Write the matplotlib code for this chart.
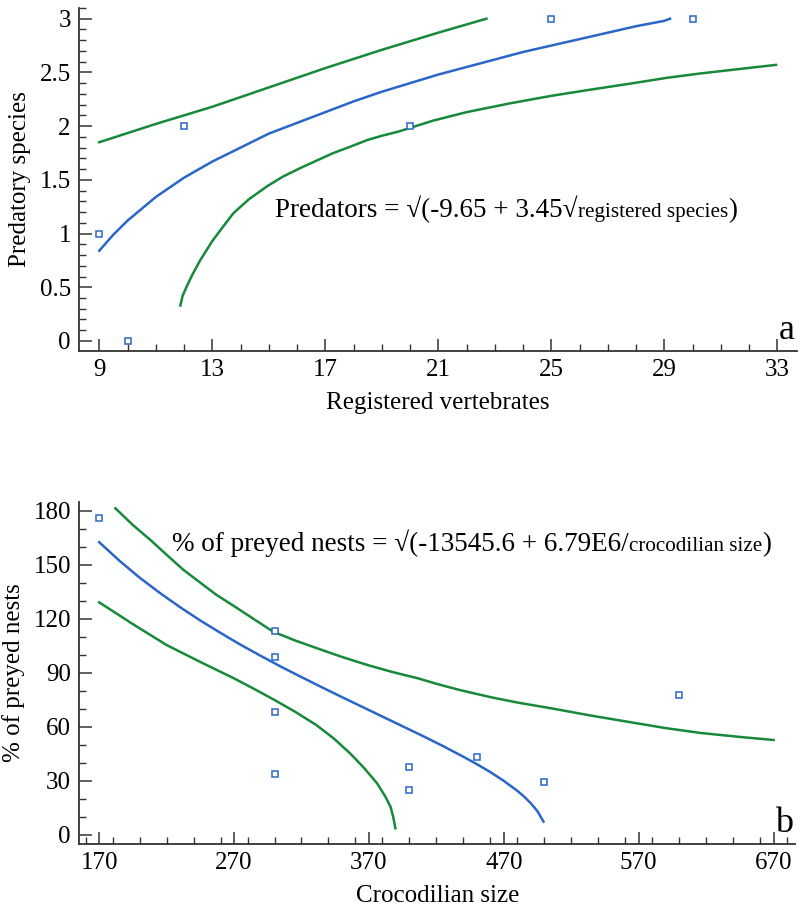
import matplotlib
matplotlib.use('Agg')
import matplotlib.pyplot as plt
from matplotlib.ticker import MultipleLocator

SERIF = ['Liberation Serif', 'DejaVu Serif']
plt.rcParams['font.family'] = SERIF

BLUE = '#2a66c8'
GREEN = '#17893a'

# --- panel a: predators vs registered vertebrates ---
obs_a_x = [9, 10, 12, 20, 25, 30]
obs_a_y = [1, 0, 2, 2, 3, 3]

fit_a_x = [9, 9.5, 10, 10.5, 11, 11.5, 12, 13, 14, 15, 16, 17, 18, 19, 20, 21, 22, 23, 24, 25,
           26, 27, 28, 29, 29.2]
fit_a_y = [0.84, 0.99, 1.12, 1.23, 1.34, 1.43, 1.52, 1.67, 1.80, 1.93, 2.03, 2.13, 2.23, 2.32,
           2.40, 2.48, 2.55, 2.62, 2.69, 2.75, 2.81, 2.87, 2.93, 2.98, 3.0]

up_a_x = [9, 11, 13, 15, 17, 19, 21, 22.7]
up_a_y = [1.85, 2.02, 2.18, 2.36, 2.54, 2.71, 2.87, 3.0]

lo_a_x = [11.87, 11.95, 12.1, 12.3, 12.58, 13.0, 13.4, 13.75, 14.3, 14.94, 15.5, 16.12, 16.7,
          17.29, 17.9, 18.48, 19.0, 19.6, 20.8, 22.0, 23.5, 24.96, 26.4, 27.9, 29.1, 30.27,
          31.6, 32.95]
lo_a_y = [0.33, 0.42, 0.51, 0.62, 0.755, 0.93, 1.07, 1.19, 1.32, 1.44, 1.53, 1.61, 1.68, 1.75,
          1.81, 1.87, 1.91, 1.95, 2.05, 2.13, 2.21, 2.28, 2.34, 2.40, 2.45, 2.49, 2.53, 2.57]

# --- panel b: preyed nests vs crocodilian size ---
obs_b_x = [170, 300, 300, 300, 300, 400, 400, 450, 500, 600]
obs_b_y = [176, 113, 99, 68, 34, 37.5, 25, 43, 29.5, 77.5]

fit_b_x = [170, 185, 200, 215, 230, 245, 260, 275, 290, 305, 320, 335, 350, 365, 380, 395, 410,
           425, 440, 450, 460, 470, 480, 485, 490, 495, 499.4]
fit_b_y = [162.5, 152.2, 142.8, 134.3, 126.4, 119.0, 112.1, 105.5, 99.3, 93.3, 87.6, 82.0, 76.5,
           71.1, 65.7, 60.3, 54.9, 49.3, 43.4, 39.3, 34.9, 30.0, 24.5, 21.3, 17.6, 13.1, 7.4]

up_b_x = [182, 195, 208, 220, 232.5, 245, 257, 270, 282, 299, 315, 331.5, 350, 369, 387, 406,
          421, 437, 460, 480, 505, 535, 566, 590, 616, 645, 670]
up_b_y = [181.3, 172, 163.7, 155.5, 147.1, 140, 133.2, 127, 121.1, 112.8, 108, 103.6, 98.8, 94.3,
          90.5, 87.0, 83.7, 80.5, 76.5, 73.5, 70.3, 66.2, 62.3, 59.3, 56.6, 54.4, 52.7]

lo_b_x = [170, 195, 220, 245, 270, 285, 300, 315, 331, 344, 356, 366, 376, 382, 386, 388, 389.6]
lo_b_y = [129.1, 117, 105.4, 96, 86.9, 81, 74.9, 68.5, 61.0, 53.5, 45.3, 37.5, 28.7, 21.5, 15.7,
          10, 3.7]

fig = plt.figure(figsize=(8, 9.13), dpi=100)
ax1 = fig.add_axes([0.099, 0.6156, 0.8975, 0.3757])
ax2 = fig.add_axes([0.099, 0.0756, 0.895, 0.375])


def style(ax):
    for s in ['top', 'right']:
        ax.spines[s].set_visible(False)
    for s in ['left', 'bottom']:
        ax.spines[s].set_color('#333333')
        ax.spines[s].set_linewidth(1.3)
    ax.tick_params(which='major', direction='in', length=9, width=1.1, labelsize=18, colors='#333333',
                   labelcolor='black', pad=6)
    ax.tick_params(which='minor', direction='in', length=5, width=1.0, colors='#333333')
    for lbl in ax.get_xticklabels() + ax.get_yticklabels():
        lbl.set_fontfamily(SERIF)


def equation(ax, x, y, big, small, close, size):
    # main text, smaller variable name, closing bracket, one after another
    t = ax.text(x, y, big, transform=ax.transAxes, fontsize=size)
    fig.canvas.draw()
    x1 = t.get_window_extent().transformed(ax.transAxes.inverted()).x1
    t2 = ax.text(x1, y, small, transform=ax.transAxes, fontsize=size * 0.78)
    fig.canvas.draw()
    x2 = t2.get_window_extent().transformed(ax.transAxes.inverted()).x1
    ax.text(x2, y, close, transform=ax.transAxes, fontsize=size)


# panel a
ax1.plot(up_a_x, up_a_y, color=GREEN, lw=1.8)
ax1.plot(lo_a_x, lo_a_y, color=GREEN, lw=1.8)
ax1.plot(fit_a_x, fit_a_y, color=BLUE, lw=1.8)
ax1.plot(obs_a_x, obs_a_y, 's', ms=4.5, mfc='white', mec=BLUE, mew=1.1, ls='none')
ax1.set_xlim(8.29, 33.7)
ax1.set_ylim(-0.093, 3.1)
ax1.set_xticks([9, 13, 17, 21, 25, 29, 33])
ax1.xaxis.set_minor_locator(MultipleLocator(1))
ax1.set_yticks([0, 0.5, 1, 1.5, 2, 2.5, 3], ['0', '0.5', '1', '1.5', '2', '2.5', '3'])
ax1.yaxis.set_minor_locator(MultipleLocator(0.1))
style(ax1)
ax1.set_xlabel('Registered vertebrates', fontsize=18, labelpad=8)
ax1.set_ylabel('Predatory species', fontsize=18, labelpad=6)
equation(ax1, 0.273, 0.39, 'Predators = \u221a(-9.65 + 3.45\u221a', 'registered species', ')', 19.5)
ax1.text(0.985, 0.035, 'a', transform=ax1.transAxes, fontsize=26, ha='center')

# panel b
ax2.plot(up_b_x, up_b_y, color=GREEN, lw=1.8)
ax2.plot(lo_b_x, lo_b_y, color=GREEN, lw=1.8)
ax2.plot(fit_b_x, fit_b_y, color=BLUE, lw=1.8)
ax2.plot(obs_b_x, obs_b_y, 's', ms=4.5, mfc='white', mec=BLUE, mew=1.1, ls='none')
ax2.set_xlim(155.2, 686)
ax2.set_ylim(-5, 185)
ax2.set_xticks([170, 270, 370, 470, 570, 670])
ax2.xaxis.set_minor_locator(MultipleLocator(20))
ax2.set_yticks([0, 30, 60, 90, 120, 150, 180])
ax2.yaxis.set_minor_locator(MultipleLocator(10))
style(ax2)
ax2.set_xlabel('Crocodilian size', fontsize=18, labelpad=8)
ax2.set_ylabel('% of preyed nests', fontsize=18, labelpad=6)
equation(ax2, 0.13, 0.855, '% of preyed nests = \u221a(-13545.6 + 6.79E6/', 'crocodilian size', ')', 19.5)
ax2.text(0.985, 0.035, 'b', transform=ax2.transAxes, fontsize=26, ha='center')

fig.savefig('out.png', dpi=100)
